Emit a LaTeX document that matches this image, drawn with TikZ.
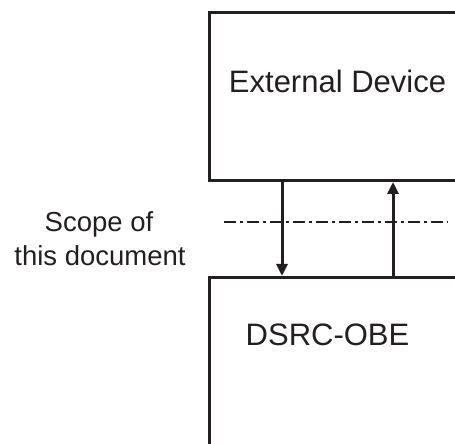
\documentclass[tikz,border=0pt]{standalone}
\usepackage{fontspec}
\setmainfont{Liberation Sans}
\usetikzlibrary{arrows.meta}
\definecolor{ink}{HTML}{231F20}
\begin{document}
\begin{tikzpicture}[x=1pt,y=1pt,
  box/.style={draw=ink,line width=3.2pt,rectangle,inner sep=0pt},
  lbl/.style={text=ink,font=\fontsize{31}{33}\selectfont,inner sep=0pt},
  slbl/.style={text=ink,font=\fontsize{27.5}{29}\selectfont,inner sep=0pt},
  flow/.style={draw=ink,line width=3pt,-{Triangle[length=12pt,width=11pt]}},
  scope/.style={draw=ink,line width=1.5pt,dash pattern=on 12pt off 4pt on 3pt off 4pt}]
\useasboundingbox (0,0) rectangle (455,444);
\clip (0,0) rectangle (455,444);
\node[box,anchor=south west,minimum width=270pt,minimum height=168pt] (ext) at (208,262) {};
\node[box,anchor=north west,minimum width=270pt,minimum height=190pt] (obe) at (208,168) {};
\node[lbl,anchor=base] (extl) at (337.5,351) {External Device};
\node[lbl,anchor=base west] (obel) at (245.5,98) {DSRC-OBE};
\node[slbl,anchor=base] (sc1) at (99,212) {Scope of};
\node[slbl,anchor=base] (sc2) at (100,178) {this document};
\coordinate (dl) at (224,222);
\coordinate (dr) at (448,222);
\draw[scope] (dl) -- (dr);
\draw[flow] (ext.south -| 282,0) -- (obe.north -| 282,0);
\draw[flow] (obe.north -| 393,0) -- (ext.south -| 393,0);
\end{tikzpicture}
\end{document}
